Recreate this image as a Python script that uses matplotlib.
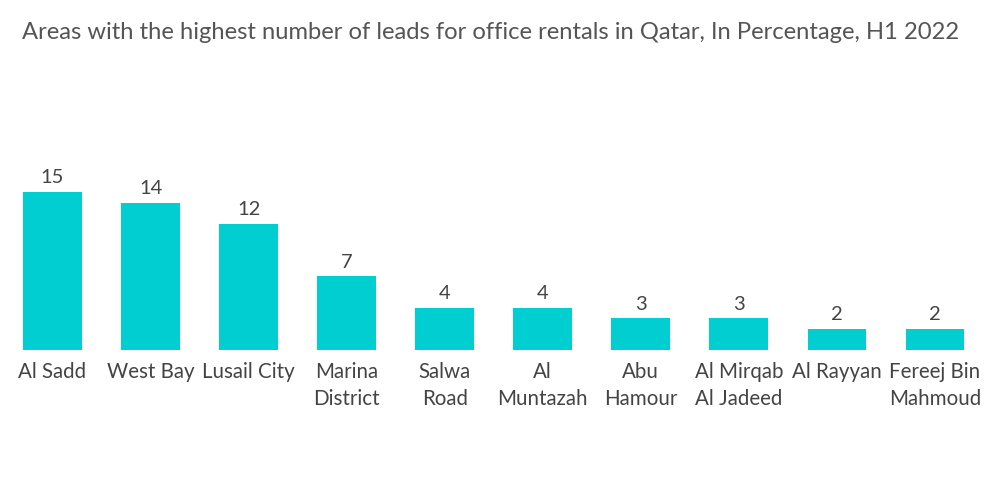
import matplotlib.pyplot as plt

# data
areas = ['Al Sadd', 'West Bay', 'Lusail City', 'Marina\nDistrict', 'Salwa\nRoad',
         'Al\nMuntazah', 'Abu\nHamour', 'Al Mirqab\nAl Jadeed', 'Al Rayyan',
         'Fereej Bin\nMahmoud']
leads = [15, 14, 12, 7, 4, 4, 3, 3, 2, 2]

plt.rcParams['font.family'] = ['Lato', 'DejaVu Sans']

fig = plt.figure(figsize=(10, 5.04), dpi=100)
ax = fig.add_axes([0.0035, 0.3056, 0.9805, 0.3968])

x = range(len(areas))
bars = ax.bar(x, leads, width=0.6, color='#00CED1')

for xi, v in zip(x, leads):
    ax.text(xi, v + 0.55, str(v), ha='center', va='bottom', fontsize=14.5,
            color='#444444')

ax.set_xlim(-0.5, 9.5)
ax.set_ylim(0, 19)
ax.set_xticks(list(x))
ax.set_xticklabels(areas, fontsize=14.8, color='#444444', linespacing=1.4)
ax.tick_params(axis='x', length=0, pad=9)
ax.set_yticks([])
for s in ax.spines.values():
    s.set_visible(False)

fig.text(0.022, 0.936, 'Areas with the highest number of leads for office rentals in Qatar, In Percentage, H1 2022',
         fontsize=17.1, color='#555555', ha='left', va='center')

fig.savefig('out.png', dpi=100)
